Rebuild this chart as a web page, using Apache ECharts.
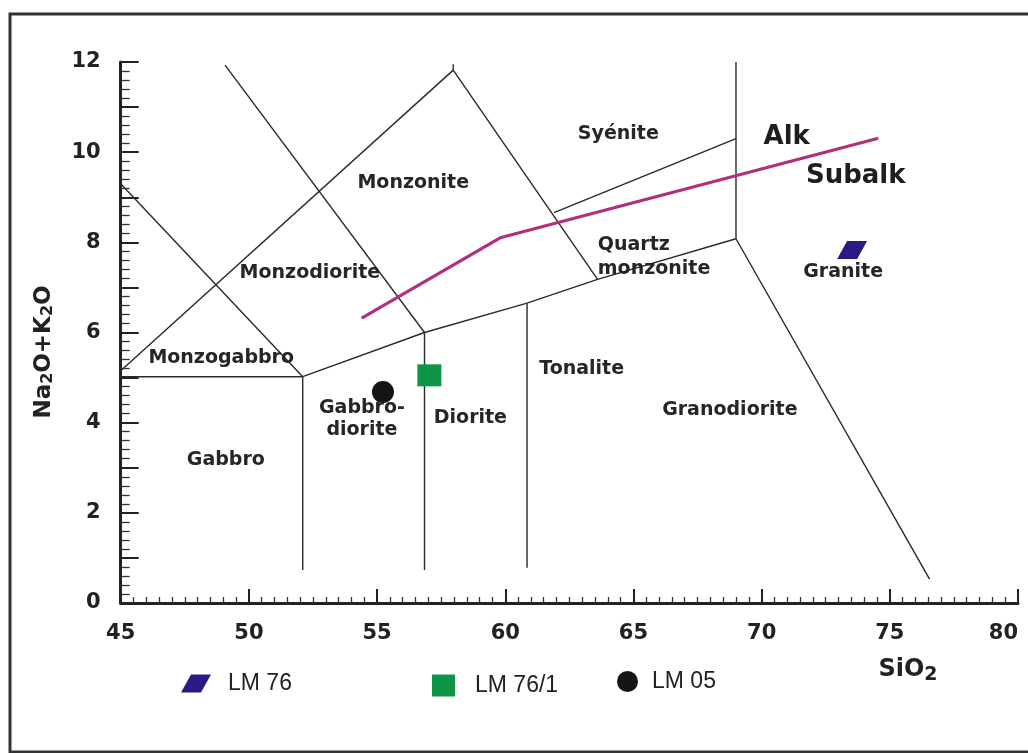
<!DOCTYPE html>
<html>
<head>
<meta charset="utf-8">
<script src="https://cdn.jsdelivr.net/npm/echarts@6/dist/echarts.min.js"></script>
<style>
  html, body { margin: 0; padding: 0; background: #fff; }
  #chart { width: 1028px; height: 753px; }
</style>
</head>
<body>
<div id="chart"></div>
<script>
// field boundaries (SiO2, Na2O+K2O)
const gabbroTop = [[45, 5.02], [52.1, 5.02]]
const gabbroRight = [[52.1, 5.02], [52.1, 0.73]]
const dioriteLeft = [[56.85, 6.0], [56.85, 0.73]]
const tonaliteLeft = [[60.85, 6.65], [60.85, 0.78]]
const lowerBoundary = [[52.1, 5.02], [56.85, 6.0], [60.85, 6.65], [63.6, 7.18], [69, 8.08]]
const graniteLeft = [[69, 8.08], [69, 12]]
const graniteRight = [[69, 8.08], [76.55, 0.53]]
const syeniteBase = [[69, 10.3], [61.9, 8.66]]
const monzoniteRight = [[57.97, 11.95], [57.97, 11.82], [63.6, 7.18]]
const monzoniteLeft = [[57.97, 11.82], [45, 5.15]]
const monzodioriteRight = [[49.07, 11.93], [56.85, 6.0]]
const monzogabbroRight = [[45, 9.3], [52.1, 5.02]]
const boundaries = [gabbroTop, gabbroRight, dioriteLeft, tonaliteLeft, lowerBoundary,
  graniteLeft, graniteRight, syeniteBase, monzoniteRight, monzoniteLeft,
  monzodioriteRight, monzogabbroRight]

// alkaline / subalkaline divide
const alkLine = [[54.4, 6.32], [59.8, 8.1], [74.55, 10.31]]

// samples
const sampleNames = ['LM 76', 'LM 76/1', 'LM 05']
const sampleSiO2 = [73.53, 57.04, 55.23]
const sampleAlk = [7.83, 5.05, 4.68]

// field names
const fieldNames = ['Syénite', 'Monzonite', 'Monzodiorite', 'Monzogabbro', 'Gabbro',
  'Gabbro-\ndiorite', 'Diorite', 'Tonalite', 'Granodiorite', 'Granite']
const fieldX = [64.41, 56.41, 52.38, 48.92, 49.1, 54.41, 58.64, 62.98, 68.76, 73.18]
const fieldY = [10.41, 9.32, 7.32, 5.43, 3.17, 4.08, 4.1, 5.2, 4.28, 7.35]
const qmzX = 63.61, qmzY = 7.68
const seriesNames = ['Alk', 'Subalk']
const seriesNameX = [70.98, 73.67]
const seriesNameY = [10.34, 9.47]

const xTicks = [45, 80, 5]
const yTicks = [0, 12, 2]

const boldFont = '"DejaVu Sans", Verdana, sans-serif'
const para = 'path://M10,0 L30,0 L20,18 L0,18 Z'

const chart = echarts.init(document.getElementById('chart'))

const lineSeries = boundaries.map(b => ({
  type: 'line',
  data: b,
  symbol: 'none',
  silent: true,
  z: 2,
  lineStyle: { color: '#2a2a2a', width: 1.4 }
}))

lineSeries.push({
  type: 'line',
  data: alkLine,
  symbol: 'none',
  z: 3,
  lineStyle: { color: '#b0307e', width: 3.2 }
})

const fieldLabel = {
  show: true, position: 'inside', formatter: '{b}',
  fontFamily: boldFont, fontWeight: 'bold', fontSize: 19, color: '#262626',
  textBorderWidth: 0, opacity: 1
}

const labelSeries = [
  {
    type: 'scatter',
    symbolSize: 0,
    z: 4,
    data: fieldNames.map((n, i) => ({ name: n, value: [fieldX[i], fieldY[i]] })),
    label: Object.assign({ lineHeight: 22 }, fieldLabel)
  },
  {
    type: 'scatter',
    symbolSize: 0,
    z: 4,
    data: [{ name: 'Quartz\nmonzonite', value: [qmzX, qmzY] }],
    label: Object.assign({ lineHeight: 24, align: 'left' }, fieldLabel)
  },
  {
    type: 'scatter',
    symbolSize: 0,
    z: 4,
    data: seriesNames.map((n, i) => ({ name: n, value: [seriesNameX[i], seriesNameY[i]] })),
    label: Object.assign({}, fieldLabel, { fontSize: 26, color: '#1e1e1e' })
  }
]

const sampleStyles = [
  { symbol: para, symbolSize: [30, 18], color: '#2b1a86' },
  { symbol: 'rect', symbolSize: [24, 22], color: '#0e9447' },
  { symbol: 'circle', symbolSize: 22, color: '#141414' }
]

const sampleSeries = sampleNames.map((n, i) => ({
  name: n,
  type: 'scatter',
  z: 5,
  symbol: sampleStyles[i].symbol,
  symbolSize: sampleStyles[i].symbolSize,
  itemStyle: { color: sampleStyles[i].color, opacity: 1 },
  data: [[sampleSiO2[i], sampleAlk[i]]]
}))

const legendText = { fontFamily: '"Liberation Sans", Arial, sans-serif', fontSize: 23, color: '#222' }

const option = {
  animation: false,
  backgroundColor: '#fff',
  grid: { left: 120.7, right: 10, top: 62, bottom: 150 },
  xAxis: {
    type: 'value',
    min: xTicks[0], max: xTicks[1], interval: xTicks[2],
    axisLine: { lineStyle: { color: '#222', width: 3 } },
    axisTick: { inside: true, length: 14, lineStyle: { color: '#222', width: 2 } },
    minorTick: { show: true, splitNumber: 10, length: 6, lineStyle: { color: '#333', width: 1.3 } },
    splitLine: { show: false },
    axisLabel: {
      margin: 20, color: '#222', fontFamily: boldFont, fontWeight: 'bold', fontSize: 21,
      alignMaxLabel: 'right'
    }
  },
  yAxis: {
    type: 'value',
    min: yTicks[0], max: yTicks[1], interval: 1,
    axisLine: { lineStyle: { color: '#222', width: 3 } },
    axisTick: { inside: true, length: 18, lineStyle: { color: '#222', width: 2 } },
    minorTick: { show: true, splitNumber: 5, length: 9, lineStyle: { color: '#333', width: 1.3 } },
    splitLine: { show: false },
    axisLabel: {
      margin: 20, color: '#222', fontFamily: boldFont, fontWeight: 'bold', fontSize: 21,
      formatter: v => (v % yTicks[2] === 0 ? String(v) : '')
    }
  },
  legend: sampleNames.map((n, i) => ({
    data: [n],
    left: [181, 432, 617][i],
    top: [672, 674, 670][i],
    padding: 0,
    itemWidth: [30, 23, 21][i],
    itemHeight: [19, 22, 21][i],
    icon: [para, 'rect', 'circle'][i],
    selectedMode: false,
    textStyle: Object.assign({ padding: [0, 0, 0, [12, 15, 9][i]] }, legendText)
  })),
  graphic: [
    {
      type: 'rect',
      shape: { x: 10, y: 14, width: 1040, height: 738 },
      style: { fill: 'none', stroke: '#333', lineWidth: 3 },
      silent: true
    },
    {
      type: 'text',
      x: 44, y: 352,
      rotation: Math.PI / 2,
      style: {
        text: '{b|Na}{s|2}{b|O+K}{s|2}{b|O}',
        align: 'center', verticalAlign: 'middle',
        rich: {
          b: { fontFamily: boldFont, fontWeight: 'bold', fontSize: 23, fill: '#222', color: '#222' },
          s: { fontFamily: boldFont, fontWeight: 'bold', fontSize: 16, fill: '#222', color: '#222', padding: [8, 0, 0, 0] }
        }
      }
    },
    {
      type: 'text',
      x: 908, y: 670,
      style: {
        text: '{b|SiO}{s|2}',
        align: 'center', verticalAlign: 'middle',
        rich: {
          b: { fontFamily: boldFont, fontWeight: 'bold', fontSize: 24, fill: '#222', color: '#222' },
          s: { fontFamily: boldFont, fontWeight: 'bold', fontSize: 19, fill: '#222', color: '#222', padding: [10, 0, 0, 0] }
        }
      }
    }
  ],
  series: [...lineSeries, ...labelSeries, ...sampleSeries]
}

chart.setOption(option)
</script>
</body>
</html>
